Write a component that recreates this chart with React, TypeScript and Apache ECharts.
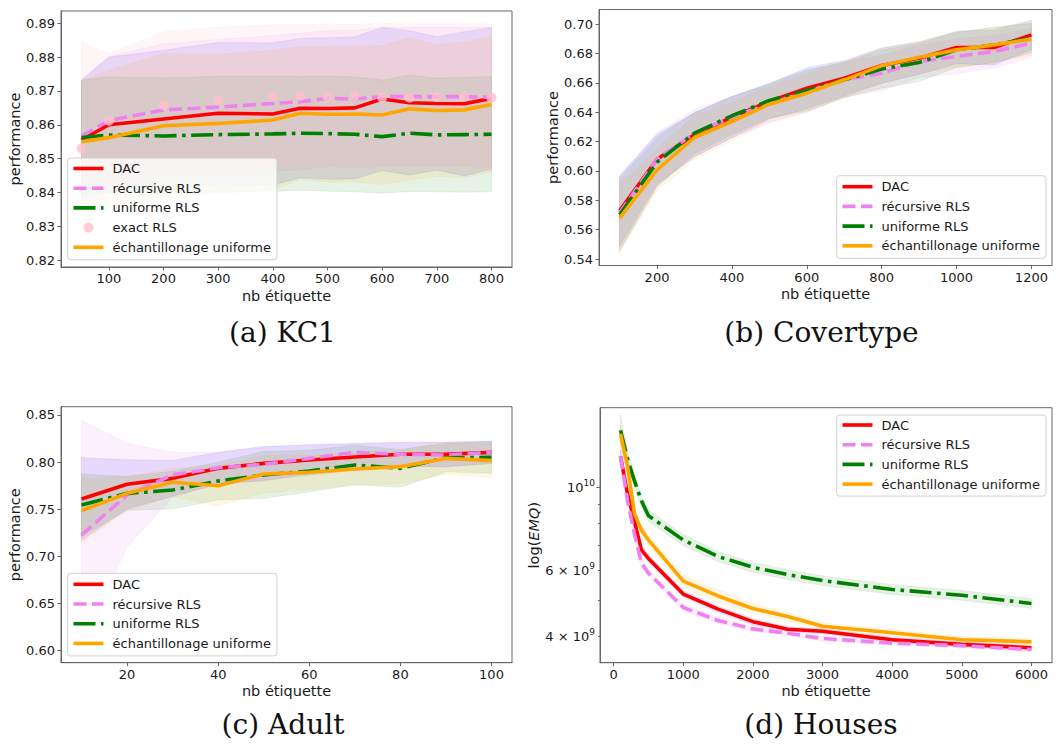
import React, { useEffect, useRef } from "react";
import * as echarts from "echarts";

// ---------- (a) KC1 ----------
const kc1X = [50, 100, 200, 300, 400, 450, 500, 550, 600, 650, 700, 750, 800];
const kc1Dac = [0.8555, 0.86, 0.8617, 0.8634, 0.8632, 0.8649, 0.8648, 0.865, 0.8676, 0.8665, 0.8663, 0.8662, 0.8678];
const kc1Rec = [0.8567, 0.8612, 0.8644, 0.8652, 0.8663, 0.8668, 0.8678, 0.8676, 0.8683, 0.8683, 0.8683, 0.8683, 0.8681];
const kc1Uni = [0.8562, 0.857, 0.8567, 0.8571, 0.8573, 0.8575, 0.8574, 0.8572, 0.8565, 0.8575, 0.857, 0.8571, 0.8572];
const kc1Exact = [0.853, 0.8612, 0.8658, 0.8673, 0.8683, 0.8686, 0.8683, 0.8685, 0.868, 0.868, 0.8682, 0.8683, 0.868];
const kc1Ech = [0.855, 0.8562, 0.8597, 0.8604, 0.8614, 0.8634, 0.8631, 0.8632, 0.8629, 0.8647, 0.8642, 0.8644, 0.866];
const kc1DacStd = [0.0178, 0.02, 0.0203, 0.0209, 0.021, 0.0206, 0.0209, 0.021, 0.0211, 0.0213, 0.0197, 0.0213, 0.0209];
const kc1RecStd = [0.0165, 0.019, 0.0195, 0.02, 0.02, 0.0202, 0.02, 0.0203, 0.0205, 0.0205, 0.0205, 0.0205, 0.0207];
const kc1UniStd = [0.017, 0.0172, 0.0172, 0.0172, 0.017, 0.0168, 0.017, 0.017, 0.0167, 0.0172, 0.0168, 0.017, 0.017];
const kc1ExactStd = [0.0316, 0.0198, 0.0217, 0.0215, 0.0212, 0.021, 0.0215, 0.0212, 0.022, 0.0218, 0.0216, 0.0215, 0.0218];
const kc1EchStd = [0.0178, 0.02, 0.0213, 0.0204, 0.0206, 0.0196, 0.02, 0.02, 0.0205, 0.021, 0.0195, 0.02, 0.02];
const kc1XTicks = [100, 200, 300, 400, 500, 600, 700, 800];
const kc1YTicks = [0.82, 0.83, 0.84, 0.85, 0.86, 0.87, 0.88, 0.89];

// ---------- (b) Covertype ----------
const covX = [100, 200, 300, 400, 500, 600, 700, 800, 900, 1000, 1100, 1200];
const covDac = [0.5729, 0.608, 0.6246, 0.6367, 0.6473, 0.6564, 0.6632, 0.6718, 0.6768, 0.6841, 0.6841, 0.6927];
const covRec = [0.5713, 0.608, 0.6258, 0.6367, 0.6457, 0.6541, 0.6621, 0.6666, 0.6746, 0.678, 0.6814, 0.6871];
const covUni = [0.5701, 0.606, 0.6258, 0.6376, 0.648, 0.6548, 0.6621, 0.6694, 0.6739, 0.6825, 0.6859, 0.6905];
const covEch = [0.5679, 0.6008, 0.6228, 0.6337, 0.6455, 0.653, 0.6621, 0.6718, 0.6775, 0.6825, 0.6859, 0.6898];
const covDacStd = [0.024, 0.017, 0.015, 0.014, 0.012, 0.014, 0.012, 0.012, 0.011, 0.011, 0.012, 0.01];
const covRecStd = [0.025, 0.018, 0.016, 0.014, 0.013, 0.014, 0.012, 0.012, 0.011, 0.012, 0.011, 0.01];
const covUniStd = [0.025, 0.017, 0.014, 0.013, 0.012, 0.014, 0.012, 0.013, 0.013, 0.012, 0.012, 0.01];
const covEchStd = [0.023, 0.014, 0.015, 0.013, 0.012, 0.013, 0.012, 0.012, 0.011, 0.012, 0.012, 0.011];
const covXTicks = [200, 400, 600, 800, 1000, 1200];
const covYTicks = [0.54, 0.56, 0.58, 0.6, 0.62, 0.64, 0.66, 0.68, 0.7];

// ---------- (c) Adult ----------
const adX = [10, 20, 30, 40, 50, 60, 70, 80, 90, 100];
const adDac = [0.7609, 0.7765, 0.7828, 0.7934, 0.7987, 0.8023, 0.8055, 0.8083, 0.8083, 0.8104];
const adRec = [0.7227, 0.7651, 0.7864, 0.7941, 0.7977, 0.804, 0.8104, 0.8083, 0.8076, 0.8104];
const adUni = [0.7545, 0.7669, 0.7704, 0.78, 0.7864, 0.7906, 0.797, 0.7934, 0.8047, 0.8051];
const adEch = [0.7485, 0.7669, 0.7786, 0.775, 0.7874, 0.7892, 0.7927, 0.7952, 0.804, 0.8016];
const adDacStd = [0.044, 0.026, 0.019, 0.017, 0.018, 0.016, 0.014, 0.013, 0.013, 0.012];
const adRecStd = [0.122, 0.055, 0.024, 0.016, 0.018, 0.015, 0.01, 0.012, 0.013, 0.011];
const adUniStd = [0.033, 0.018, 0.02, 0.02, 0.025, 0.022, 0.021, 0.02, 0.015, 0.017];
const adEchStd = [0.034, 0.018, 0.015, 0.0215, 0.02, 0.018, 0.017, 0.018, 0.017, 0.018];
const adXTicks = [20, 40, 60, 80, 100];
const adYTicks = [0.6, 0.65, 0.7, 0.75, 0.8, 0.85];

// ---------- (d) Houses ----------
const hoX = [100, 200, 300, 400, 500, 1000, 1500, 2000, 2500, 3000, 4000, 5000, 6000];
const hoDac = [1.21e10, 9.6e9, 8.1e9, 6.8e9, 6.45e9, 5.18e9, 4.72e9, 4.37e9, 4.17e9, 4.12e9, 3.91e9, 3.8e9, 3.72e9];
const hoRec = [1.21e10, 9.2e9, 7.5e9, 6.27e9, 5.9e9, 4.77e9, 4.4e9, 4.18e9, 4.07e9, 3.94e9, 3.83e9, 3.77e9, 3.68e9];
const hoUni = [1.42e10, 1.19e10, 1.04e10, 9.2e9, 8.4e9, 7.23e9, 6.53e9, 6.11e9, 5.84e9, 5.63e9, 5.33e9, 5.14e9, 4.89e9];
const hoEch = [1.39e10, 1.14e10, 8.5e9, 7.68e9, 7.23e9, 5.61e9, 5.12e9, 4.74e9, 4.51e9, 4.25e9, 4.08e9, 3.91e9, 3.86e9];
const hoDacSpread = [0.04, 0.03, 0.03, 0.025, 0.025, 0.02, 0.02, 0.02, 0.015, 0.015, 0.015, 0.015, 0.015];
const hoRecSpread = [0.04, 0.03, 0.03, 0.025, 0.02, 0.02, 0.02, 0.015, 0.015, 0.015, 0.015, 0.015, 0.015];
const hoUniSpread = [0.1, 0.05, 0.04, 0.035, 0.035, 0.035, 0.03, 0.03, 0.03, 0.03, 0.03, 0.03, 0.03];
const hoEchSpread = [0.06, 0.04, 0.03, 0.03, 0.03, 0.04, 0.04, 0.03, 0.025, 0.02, 0.02, 0.02, 0.02];
const hoXTicks = [0, 1000, 2000, 3000, 4000, 5000, 6000];
const hoYLabelValues = [4e9, 6e9, 1e10];
const hoYMajorTicks = [1e10];
const hoYMinorTicks = [4e9, 5e9, 6e9, 7e9, 8e9, 9e9];

const names = ["DAC", "récursive RLS", "uniforme RLS", "exact RLS", "échantillonage uniforme"];
const captions = ["(a) KC1", "(b) Covertype", "(c) Adult", "(d) Houses"];

const FONT = "DejaVu Sans";
const TXT = "#1a1a1a";
const FRAME = "#666";
const LW = 3.6;
const DASH = [13, 5.5];
const DASHDOT = [22, 5.5, 3.6, 5.5];

type Sty = { color: string; type: any; band: number[]; alpha: number };
const styles: Record<string, Sty> = {
  DAC: { color: "red", type: "solid", band: [0, 0, 255], alpha: 0.1 },
  "récursive RLS": { color: "violet", type: DASH, band: [238, 130, 238], alpha: 0.12 },
  "uniforme RLS": { color: "green", type: DASHDOT, band: [0, 128, 0], alpha: 0.1 },
  "exact RLS": { color: "pink", type: "solid", band: [255, 192, 203], alpha: 0.15 },
  "échantillonage uniforme": { color: "orange", type: "solid", band: [255, 165, 0], alpha: 0.1 },
};
const rgba = (c: number[], a: number) => `rgba(${c[0]},${c[1]},${c[2]},${a})`;

const log10 = (v: number) => Math.log10(v);

function bandSeries(key: string, name: string, xs: number[], lo: number[], hi: number[], gi: number) {
  const s = styles[name];
  return {
    type: "custom",
    name: key,
    xAxisIndex: gi,
    yAxisIndex: gi,
    silent: true,
    z: 1,
    data: xs.map((x, i) => [x, lo[i], hi[i]]),
    encode: { x: 0, y: [1, 2] },
    renderItem: (params: any, api: any) => {
      if (params.dataIndex !== 0) return null;
      const top = xs.map((x, i) => api.coord([x, hi[i]]));
      const bot = xs.map((x, i) => api.coord([x, lo[i]])).reverse();
      return {
        type: "polygon",
        shape: { points: top.concat(bot) },
        style: { fill: rgba(s.band, s.alpha), stroke: rgba(s.band, s.alpha), lineWidth: 0.8 },
      };
    },
  };
}

function lineSeries(name: string, xs: number[], ys: number[], gi: number) {
  const s = styles[name];
  return {
    type: "line",
    name,
    xAxisIndex: gi,
    yAxisIndex: gi,
    symbol: "none",
    z: 3,
    data: xs.map((x, i) => [x, ys[i]]),
    lineStyle: { color: s.color, width: LW, type: s.type, cap: "butt" },
    itemStyle: { color: s.color },
  };
}

function absBand(key: string, name: string, xs: number[], m: number[], sd: number[], gi: number) {
  return bandSeries(key, name, xs, m.map((v, i) => v - sd[i]), m.map((v, i) => v + sd[i]), gi);
}
function logBand(key: string, name: string, xs: number[], m: number[], sp: number[], gi: number) {
  return bandSeries(key, name, xs, m.map((v, i) => log10(v * (1 - sp[i]))), m.map((v, i) => log10(v * (1 + sp[i]))), gi);
}

const grids = [
  { left: 61, top: 11, width: 451, height: 256 },
  { left: 599, top: 9.5, width: 453, height: 256 },
  { left: 61, top: 406.7, width: 451, height: 256 },
  { left: 600, top: 407.7, width: 452, height: 255 },
];
const xRanges = [[12.5, 837.5], [45, 1255], [5.5, 104.5], [-195, 6295]];
const yRanges = [[0.818, 0.8936], [0.5356, 0.71], [0.5873, 0.8588], [log10(3.394e9), log10(1.633e10)]];
const xTickSets = [kc1XTicks, covXTicks, adXTicks, hoXTicks];
const yTickSets = [kc1YTicks, covYTicks, adYTicks, hoYMajorTicks.map(log10)];
const yNameGaps = [37, 36.5, 37, 57];

function buildOption() {
  const xAxis = grids.map((_, i) => ({
    gridIndex: i,
    type: "value",
    min: xRanges[i][0],
    max: xRanges[i][1],
    axisLine: { show: true, onZero: false, lineStyle: { color: FRAME, width: 1 } },
    axisTick: { show: true, inside: false, length: 3.5, customValues: xTickSets[i], lineStyle: { color: FRAME } },
    axisLabel: {
      customValues: xTickSets[i],
      margin: 5,
      fontSize: 13,
      color: TXT,
      fontFamily: FONT,
      formatter: (v: number) => String(v),
    },
    splitLine: { show: false },
    name: "nb étiquette",
    nameLocation: "middle",
    nameGap: 21,
    nameTextStyle: { fontSize: 14.5, color: TXT, fontFamily: FONT },
  }));

  const yAxis: any[] = grids.map((_, i) => ({
    gridIndex: i,
    type: "value",
    min: yRanges[i][0],
    max: yRanges[i][1],
    axisLine: { show: true, onZero: false, lineStyle: { color: FRAME, width: 1 } },
    axisTick: { show: true, inside: false, length: 3.5, customValues: yTickSets[i], lineStyle: { color: FRAME } },
    axisLabel:
      i === 3
        ? {
            customValues: hoYLabelValues.map(log10),
            margin: 5,
            color: TXT,
            fontFamily: FONT,
            formatter: (v: number) => {
              const p = Math.pow(10, v);
              if (Math.abs(v - 10) < 1e-6) return "{b|10}{s|10}";
              return "{b|" + Math.round(p / 1e9) + " × 10}{s|9}";
            },
            rich: {
              b: { fontSize: 13, lineHeight: 18, color: TXT, fontFamily: FONT },
              s: { fontSize: 9, lineHeight: 10, verticalAlign: "top", color: TXT, fontFamily: FONT },
            },
          }
        : {
            customValues: yTickSets[i],
            margin: 6,
            fontSize: 13,
            color: TXT,
            fontFamily: FONT,
            formatter: (v: number) => v.toFixed(2),
          },
    splitLine: { show: false },
    name: i === 3 ? "log({i|EMQ})" : "performance",
    nameLocation: "middle",
    nameRotate: 90,
    nameGap: yNameGaps[i],
    nameTextStyle: {
      fontSize: 14.5,
      color: TXT,
      fontFamily: FONT,
      rich: { i: { fontStyle: "italic", fontSize: 14.5, color: TXT, fontFamily: FONT } },
    },
  }));
  // minor ticks for the log axis of (d)
  yAxis.push({
    gridIndex: 3,
    type: "value",
    min: yRanges[3][0],
    max: yRanges[3][1],
    position: "left",
    axisLine: { show: false, onZero: false },
    axisTick: { show: true, inside: false, length: 2, customValues: hoYMinorTicks.map(log10), lineStyle: { color: FRAME } },
    axisLabel: { show: false },
    splitLine: { show: false },
  });

  const series: any[] = [
    // (a)
    absBand("a-dac", "DAC", kc1X, kc1Dac, kc1DacStd, 0),
    absBand("a-rec", "récursive RLS", kc1X, kc1Rec, kc1RecStd, 0),
    absBand("a-uni", "uniforme RLS", kc1X, kc1Uni, kc1UniStd, 0),
    absBand("a-exact", "exact RLS", kc1X, kc1Exact, kc1ExactStd, 0),
    absBand("a-ech", "échantillonage uniforme", kc1X, kc1Ech, kc1EchStd, 0),
    lineSeries("DAC", kc1X, kc1Dac, 0),
    lineSeries("récursive RLS", kc1X, kc1Rec, 0),
    lineSeries("uniforme RLS", kc1X, kc1Uni, 0),
    {
      type: "scatter",
      name: "exact RLS",
      xAxisIndex: 0,
      yAxisIndex: 0,
      symbol: "circle",
      symbolSize: 10,
      z: 3,
      itemStyle: { color: "pink" },
      data: kc1X.map((x, i) => [x, kc1Exact[i]]),
    },
    lineSeries("échantillonage uniforme", kc1X, kc1Ech, 0),
    // (b)
    absBand("b-dac", "DAC", covX, covDac, covDacStd, 1),
    absBand("b-rec", "récursive RLS", covX, covRec, covRecStd, 1),
    absBand("b-uni", "uniforme RLS", covX, covUni, covUniStd, 1),
    absBand("b-ech", "échantillonage uniforme", covX, covEch, covEchStd, 1),
    lineSeries("DAC", covX, covDac, 1),
    lineSeries("récursive RLS", covX, covRec, 1),
    lineSeries("uniforme RLS", covX, covUni, 1),
    lineSeries("échantillonage uniforme", covX, covEch, 1),
    // (c)
    absBand("c-dac", "DAC", adX, adDac, adDacStd, 2),
    absBand("c-rec", "récursive RLS", adX, adRec, adRecStd, 2),
    absBand("c-uni", "uniforme RLS", adX, adUni, adUniStd, 2),
    absBand("c-ech", "échantillonage uniforme", adX, adEch, adEchStd, 2),
    lineSeries("DAC", adX, adDac, 2),
    lineSeries("récursive RLS", adX, adRec, 2),
    lineSeries("uniforme RLS", adX, adUni, 2),
    lineSeries("échantillonage uniforme", adX, adEch, 2),
    // (d)
    logBand("d-dac", "DAC", hoX, hoDac, hoDacSpread, 3),
    logBand("d-rec", "récursive RLS", hoX, hoRec, hoRecSpread, 3),
    logBand("d-uni", "uniforme RLS", hoX, hoUni, hoUniSpread, 3),
    logBand("d-ech", "échantillonage uniforme", hoX, hoEch, hoEchSpread, 3),
    lineSeries("DAC", hoX, hoDac.map(log10), 3),
    lineSeries("récursive RLS", hoX, hoRec.map(log10), 3),
    lineSeries("uniforme RLS", hoX, hoUni.map(log10), 3),
    lineSeries("échantillonage uniforme", hoX, hoEch.map(log10), 3),
  ];

  const legendItems = (withExact: boolean) =>
    names
      .filter((n) => withExact || n !== "exact RLS")
      .map((n) => (n === "exact RLS" ? { name: n, icon: "circle" } : { name: n, itemStyle: { opacity: 0 } }));

  const legendBase = {
    orient: "vertical",
    itemWidth: 30,
    itemHeight: 10,
    itemGap: 6.7,
    backgroundColor: "rgba(255,255,255,0.8)",
    borderColor: "#d0d0d0",
    borderWidth: 1,
    borderRadius: 3,
    selectedMode: false,
    lineStyle: { width: LW },
    textStyle: { fontSize: 13, color: TXT, fontFamily: FONT, padding: [0, 0, 0, 4] },
  };
  const legend = [
    { ...legendBase, left: 67.7, top: 158, padding: [4, 6, 6, 4], data: legendItems(true) },
    { ...legendBase, left: 836.7, top: 175.7, padding: [4.5, 6, 6, 4], data: legendItems(false) },
    { ...legendBase, left: 67.7, top: 573.3, padding: [4.5, 6, 6, 4], data: legendItems(false) },
    { ...legendBase, left: 836.7, top: 415, padding: [3.5, 6, 5.5, 4], data: legendItems(false) },
  ];

  const capPos = [
    [282.5, 332],
    [821.5, 332],
    [283, 724.5],
    [821, 724],
  ];
  const graphic = captions.map((t, i) => ({
    type: "text",
    x: capPos[i][0],
    y: capPos[i][1],
    silent: true,
    style: {
      text: t,
      font: "28px 'DejaVu Serif'",
      fill: "#111",
      textAlign: "center",
      textVerticalAlign: "middle",
      verticalAlign: "middle",
    },
  }));

  return {
    animation: false,
    backgroundColor: "#fff",
    textStyle: { fontFamily: FONT },
    grid: grids.map((g) => ({
      ...g,
      show: true,
      borderColor: FRAME,
      borderWidth: 1,
      backgroundColor: "transparent",
      containLabel: false,
      outerBoundsMode: "none",
    })),
    xAxis,
    yAxis,
    legend,
    series,
    graphic,
  };
}

export default function App() {
  const ref = useRef<HTMLDivElement>(null);
  useEffect(() => {
    if (!ref.current) return;
    const chart = echarts.init(ref.current, null, { renderer: "svg" });
    chart.setOption(buildOption() as any);
    return () => chart.dispose();
  }, []);
  return (
    <div
      ref={ref}
      style={{ position: "absolute", left: 0, top: 0, width: 1059, height: 747, background: "#fff" }}
    />
  );
}
